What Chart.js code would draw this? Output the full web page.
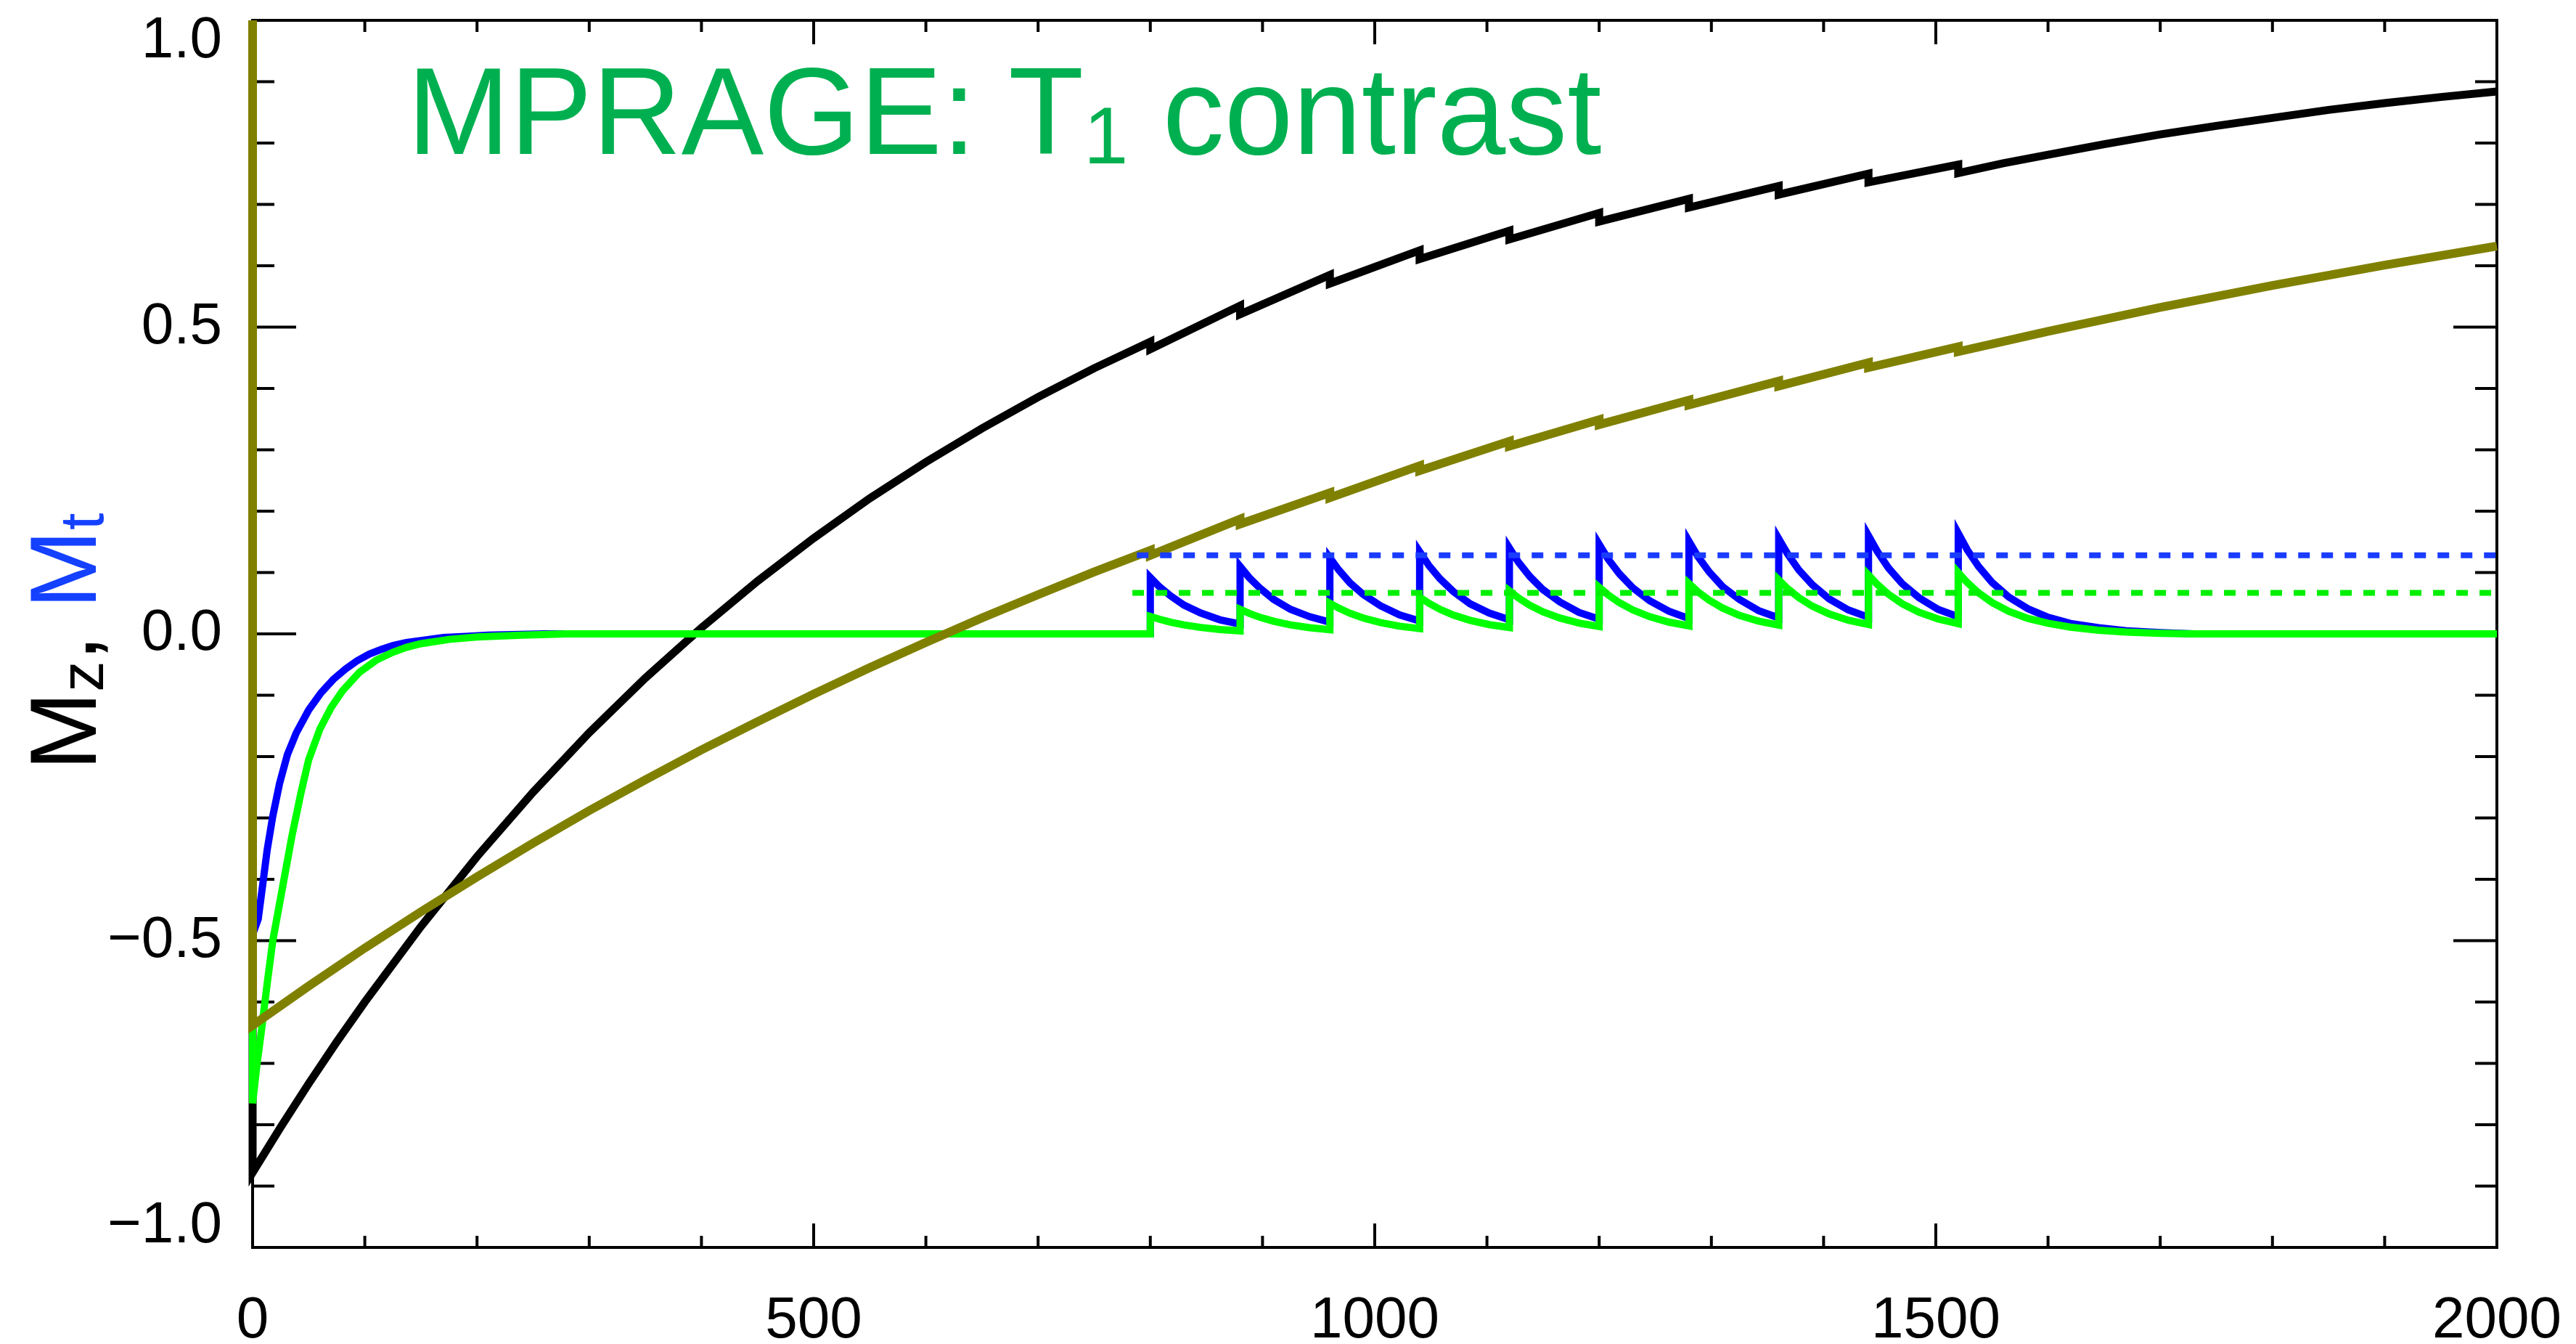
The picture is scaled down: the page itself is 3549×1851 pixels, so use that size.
<!DOCTYPE html>
<html>
<head>
<meta charset="utf-8">
<title>MPRAGE: T1 contrast</title>
<script src="https://cdn.jsdelivr.net/npm/chart.js@4.4.0/dist/chart.umd.min.js"></script>
<style>
  html, body { margin: 0; padding: 0; background: #fff; }
  #wrap { position: relative; width: 3549px; height: 1851px; overflow: hidden; }
  .plot-title {
    position: absolute; left: 561px; top: 68px;
    font-family: 'Liberation Sans', Arial, sans-serif;
    font-size: 170px; line-height: 170px; color: #00b050; white-space: nowrap;
  }
  .y-title {
    position: absolute; left: 0; top: 0;
    transform-origin: 0 0; transform: translate(22px, 1061px) rotate(-90deg);
    font-family: 'Liberation Sans', Arial, sans-serif;
    font-size: 130px; line-height: 130px; color: #000; white-space: nowrap;
  }
  .y-title .mt { color: #1440ff; }
  sub { font-size: 0.65em; vertical-align: -0.12em; line-height: 0; }
</style>
</head>
<body>
<div id="wrap">
  <canvas id="mprageChart"></canvas>
  <div class="plot-title">MPRAGE: T<sub>1</sub> contrast</div>
  <div class="y-title">M<sub>z</sub>, <span class="mt">M<sub>t</sub></span></div>
</div>

<script>
// --- Data: [time (ms), magnetization] ---

// Mz, short T1 tissue
const blackMz = [
  [0, 1.0], [0, -0.878], [25, -0.804], [50, -0.733], [75, -0.665], [100, -0.600],
  [150, -0.477], [200, -0.363], [250, -0.258], [300, -0.161], [350, -0.072],
  [400, 0.010], [450, 0.086], [500, 0.156], [550, 0.221], [600, 0.280],
  [650, 0.335], [700, 0.386], [750, 0.433], [800, 0.476], [800, 0.464],
  [880, 0.535], [880, 0.521], [960, 0.585], [960, 0.571], [1040, 0.625], [1040, 0.611],
  [1120, 0.657], [1120, 0.643], [1200, 0.686], [1200, 0.672], [1280, 0.709], [1280, 0.695],
  [1360, 0.730], [1360, 0.716], [1440, 0.750], [1440, 0.736], [1520, 0.765], [1520, 0.751],
  [1560, 0.767], [1600, 0.781], [1650, 0.798], [1700, 0.814], [1750, 0.828], [1800, 0.841],
  [1850, 0.854], [1900, 0.865], [1950, 0.875], [2000, 0.884]
];

// Mz, long T1 tissue
const oliveMz = [
  [0, 1.0], [0, -0.638], [50, -0.574], [100, -0.512], [150, -0.453], [200, -0.396],
  [250, -0.341], [300, -0.288], [350, -0.238], [400, -0.189], [450, -0.143],
  [500, -0.098], [550, -0.055], [600, -0.014], [650, 0.026], [700, 0.064],
  [750, 0.101], [800, 0.136], [800, 0.128],
  [880, 0.187], [880, 0.179], [960, 0.23], [960, 0.222], [1040, 0.274], [1040, 0.266],
  [1120, 0.314], [1120, 0.306], [1200, 0.349], [1200, 0.341], [1280, 0.381], [1280, 0.373],
  [1360, 0.412], [1360, 0.404], [1440, 0.442], [1440, 0.434], [1520, 0.468], [1520, 0.46],
  [1600, 0.493], [1700, 0.532], [1800, 0.568], [1900, 0.601], [2000, 0.632]
];

// Mt, short T1 tissue
const blueMt = [
  [0, 0], [0, -0.49], [5, -0.465], [9, -0.409], [13, -0.352], [18, -0.297], [24, -0.244],
  [31, -0.197], [39, -0.161], [50, -0.124], [61, -0.096], [72, -0.074], [83, -0.057],
  [93, -0.044], [104, -0.033], [115, -0.025], [125, -0.019], [137, -0.014], [150, -0.011],
  [170, -0.006], [190, -0.004], [210, -0.002], [260, 0], [800, 0],
  [800, 0.092], [808, 0.077], [818, 0.062], [830, 0.047], [845, 0.034], [862, 0.023], [880, 0.016],
  [880, 0.110], [888, 0.092], [898, 0.074], [910, 0.056], [925, 0.040], [942, 0.028], [960, 0.019],
  [960, 0.124], [968, 0.104], [978, 0.083], [990, 0.064], [1005, 0.046], [1022, 0.031], [1040, 0.021],
  [1040, 0.134], [1048, 0.112], [1058, 0.090], [1070, 0.069], [1085, 0.049], [1102, 0.034], [1120, 0.023],
  [1120, 0.140], [1128, 0.117], [1138, 0.094], [1150, 0.072], [1165, 0.052], [1182, 0.035], [1200, 0.024],
  [1200, 0.146], [1208, 0.122], [1218, 0.098], [1230, 0.075], [1245, 0.054], [1262, 0.037], [1280, 0.025],
  [1280, 0.151], [1288, 0.126], [1298, 0.101], [1310, 0.077], [1325, 0.056], [1342, 0.038], [1360, 0.026],
  [1360, 0.155], [1368, 0.130], [1378, 0.104], [1390, 0.080], [1405, 0.057], [1422, 0.039], [1440, 0.027],
  [1440, 0.160], [1448, 0.134], [1458, 0.107], [1470, 0.082], [1485, 0.059], [1502, 0.040], [1520, 0.028],
  [1520, 0.164], [1528, 0.137], [1538, 0.110], [1550, 0.084], [1565, 0.060], [1582, 0.041],
  [1600, 0.027], [1620, 0.017], [1645, 0.010], [1670, 0.005], [1700, 0.002], [1730, 0], [2000, 0]
];

// Mt, long T1 tissue
const greenMt = [
  [0, 0], [0, -0.765], [4, -0.70], [8, -0.645], [13, -0.57], [18, -0.5], [23, -0.45],
  [28, -0.4], [35, -0.33], [43, -0.26], [50, -0.205], [60, -0.155], [70, -0.12],
  [80, -0.093], [95, -0.063], [110, -0.043], [125, -0.03], [137, -0.022], [150, -0.016],
  [175, -0.009], [200, -0.005], [240, -0.002], [280, 0], [800, 0],
  [800, 0.0285], [808, 0.024], [818, 0.019], [830, 0.0146], [845, 0.0105], [862, 0.0072], [880, 0.0049],
  [880, 0.040], [888, 0.0335], [898, 0.0268], [910, 0.0205], [925, 0.0147], [942, 0.0101], [960, 0.0069],
  [960, 0.050], [968, 0.0419], [978, 0.0335], [990, 0.0257], [1005, 0.0184], [1022, 0.0126], [1040, 0.0087],
  [1040, 0.060], [1048, 0.0502], [1058, 0.0402], [1070, 0.0308], [1085, 0.0221], [1102, 0.0151], [1120, 0.0104],
  [1120, 0.070], [1128, 0.0586], [1138, 0.0469], [1150, 0.0359], [1165, 0.0258], [1182, 0.0176], [1200, 0.0121],
  [1200, 0.076], [1208, 0.0636], [1218, 0.0509], [1230, 0.039], [1245, 0.028], [1262, 0.0192], [1280, 0.0131],
  [1280, 0.082], [1288, 0.0686], [1298, 0.0549], [1310, 0.0421], [1325, 0.0302], [1342, 0.0207], [1360, 0.0142],
  [1360, 0.088], [1368, 0.0737], [1378, 0.059], [1390, 0.0451], [1405, 0.0324], [1422, 0.0222], [1440, 0.0152],
  [1440, 0.096], [1448, 0.0804], [1458, 0.0643], [1470, 0.0492], [1485, 0.0353], [1502, 0.0242], [1520, 0.0166],
  [1520, 0.100], [1528, 0.0837], [1538, 0.067], [1550, 0.0513], [1565, 0.0368], [1582, 0.0252],
  [1600, 0.0173], [1620, 0.011], [1645, 0.006], [1670, 0.003], [1700, 0.001], [1730, 0], [2000, 0]
];

// steady-state Mt levels during the readout train
const blueSteady = [[788, 0.128], [2000, 0.128]];
const greenSteady = [[784, 0.067], [2000, 0.067]];

// axis ticks
const xTickValues = [0, 500, 1000, 1500, 2000];
const xTickLabels = ['0', '500', '1000', '1500', '2000'];
const yTickValues = [-1.0, -0.5, 0.0, 0.5, 1.0];
const yTickLabels = ['\u22121.0', '\u22120.5', '0.0', '0.5', '1.0'];
const X_MINOR = 100;
const Y_MINOR = 0.1;

const FONT = "'Liberation Sans', Arial, sans-serif";

// --- IDL style box: frame plus inward ticks on all four sides ---
const idlFrame = {
  id: 'idlFrame',
  beforeDatasetsDraw(chart) {
    const { ctx, chartArea: area, scales } = chart;
    const xs = scales.x, ys = scales.y;
    ctx.save();
    ctx.strokeStyle = '#000';
    ctx.lineWidth = 4;
    ctx.lineCap = 'butt';
    ctx.beginPath();

    const nx = Math.round((xs.max - xs.min) / X_MINOR);
    for (let i = 0; i <= nx; i++) {
      const t = xs.min + i * X_MINOR;
      const px = xs.getPixelForValue(t);
      const len = xTickValues.includes(t) ? 33 : 16;
      ctx.moveTo(px, area.bottom); ctx.lineTo(px, area.bottom - len);
      ctx.moveTo(px, area.top); ctx.lineTo(px, area.top + len);
    }

    const ny = Math.round((ys.max - ys.min) / Y_MINOR);
    for (let i = 0; i <= ny; i++) {
      const py = ys.getPixelForValue(ys.min + i * Y_MINOR);
      const len = i % 5 === 0 ? 60 : 30;
      ctx.moveTo(area.left, py); ctx.lineTo(area.left + len, py);
      ctx.moveTo(area.right, py); ctx.lineTo(area.right - len, py);
    }
    ctx.stroke();

    ctx.strokeRect(area.left, area.top, area.right - area.left, area.bottom - area.top);
    ctx.restore();
  }
};

const line = (data, color, width, order, extra) => Object.assign({
  data: data,
  borderColor: color,
  borderWidth: width,
  showLine: true,
  pointRadius: 0,
  fill: false,
  clip: false,
  order: order
}, extra || {});

const ctx = document.getElementById('mprageChart').getContext('2d');

new Chart(ctx, {
  type: 'scatter',
  data: {
    datasets: [
      line(blackMz, '#000000', 11, 4),
      line(blueMt, '#0000ff', 10, 3),
      line(greenMt, '#00ff00', 10, 2),
      line(oliveMz, '#808000', 12, 1),
      line(blueSteady, '#1a3cff', 8, 0, { borderDash: [16, 16] }),
      line(greenSteady, '#00ee00', 8, 0, { borderDash: [16, 16] })
    ]
  },
  options: {
    responsive: true,
    maintainAspectRatio: false,
    animation: false,
    events: [],
    layout: { padding: { left: 0, top: 28, right: 109, bottom: 0 } },
    plugins: {
      legend: { display: false },
      tooltip: { enabled: false }
    },
    scales: {
      x: {
        type: 'linear',
        min: 0,
        max: 2000,
        grid: { display: false },
        border: { display: false },
        ticks: {
          stepSize: 500,
          autoSkip: false,
          maxRotation: 0,
          padding: 65,
          color: '#000',
          font: { family: FONT, size: 80, lineHeight: 0.72 },
          callback: (value) => xTickLabels[xTickValues.indexOf(value)]
        },
        afterFit: (scale) => {
          scale.height = 133;
          scale.paddingLeft = 0;
          scale.paddingRight = 0;
        }
      },
      y: {
        type: 'linear',
        min: -1,
        max: 1,
        grid: { display: false },
        border: { display: false },
        ticks: {
          stepSize: 0.5,
          autoSkip: false,
          padding: 34,
          color: '#000',
          font: { family: FONT, size: 80, lineHeight: 0.72 },
          callback: (value) => {
            const label = yTickLabels[yTickValues.indexOf(value)];
            // keep the end labels inside the box, as in IDL plots
            if (value === 1) return ['', label];
            if (value === -1) return [label, ''];
            return label;
          }
        },
        afterFit: (scale) => {
          scale.width = 348;
          scale.paddingTop = 0;
          scale.paddingBottom = 0;
        }
      }
    }
  },
  plugins: [idlFrame]
});
</script>
</body>
</html>
